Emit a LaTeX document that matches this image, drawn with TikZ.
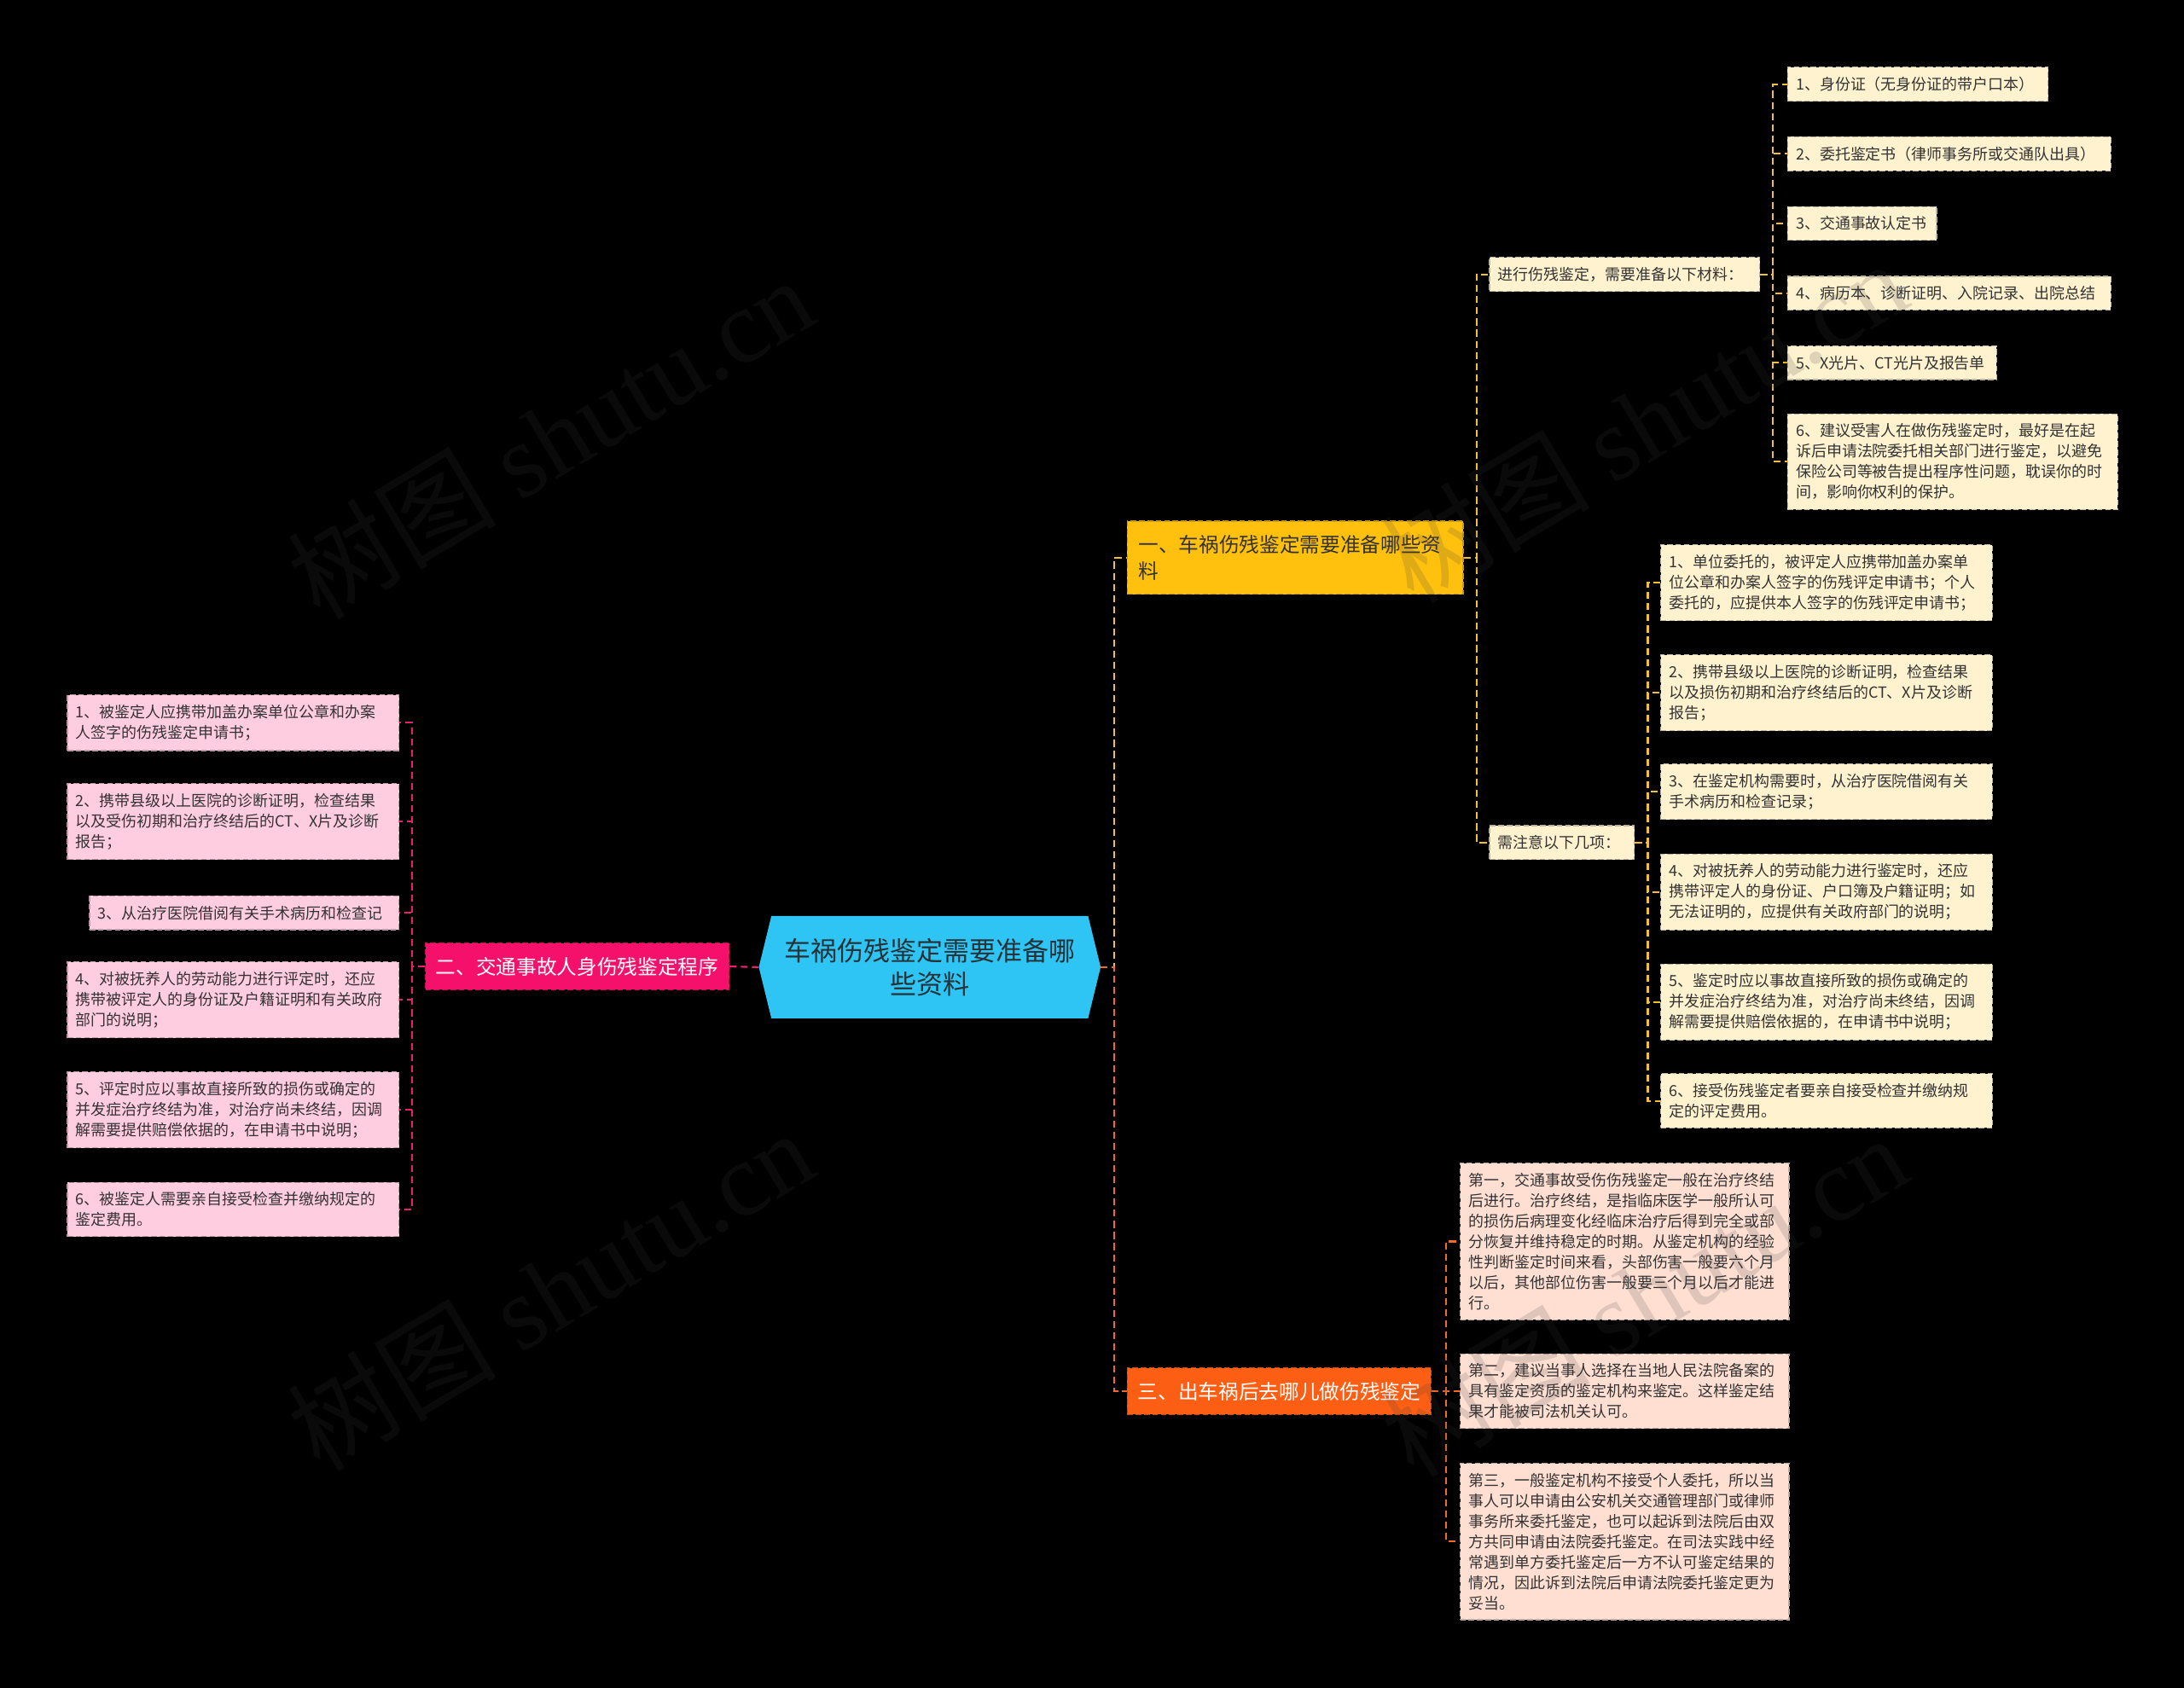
\documentclass[tikz,border=0pt]{standalone}
\usepackage{fontspec}
\setmainfont{Noto Sans CJK SC}
\newfontfamily\wmserif{Liberation Serif}
\usetikzlibrary{backgrounds}
\definecolor{cblue}{HTML}{2EC5F5}
\definecolor{cyel}{HTML}{FFC00E}
\definecolor{cpink}{HTML}{F5106B}
\definecolor{corg}{HTML}{FC5E14}
\definecolor{lyel}{HTML}{FFF2CF}
\definecolor{lpink}{HTML}{FFCCE0}
\definecolor{lorg}{HTML}{FFDFD2}
\definecolor{tdark}{HTML}{333333}
\definecolor{ctext}{HTML}{263238}
\definecolor{lyelline}{HTML}{F2C037}
\definecolor{lpinkline}{HTML}{E8206E}
\definecolor{lorgline}{HTML}{F06A2C}
\tikzset{
  leaf/.style={anchor=west, align=left, inner xsep=6pt, inner ysep=7pt,
    font=\fontsize{11}{14.7}\selectfont, text=tdark,
    dash pattern=on 4pt off 2pt, line width=0.8pt},
  yleaf/.style={leaf, fill=lyel, draw=lyel!75!black},
  pleaf/.style={leaf, fill=lpink, draw=lpink!75!black},
  oleaf/.style={leaf, fill=lorg, draw=lorg!75!black},
  branch/.style={anchor=west, align=left, inner xsep=7.5pt, inner ysep=10pt,
    font=\fontsize{14.5}{19}\selectfont, dash pattern=on 4pt off 2pt, line width=0.8pt},
  con/.style={dash pattern=on 5pt off 3pt, line width=1.3pt},
  ycon/.style={con, draw=lyelline},
  pcon/.style={con, draw=lpinkline},
  ocon/.style={con, draw=lorgline},
  wm/.style={rotate=31, text=black!75, text opacity=0.17,
    font=\fontsize{75}{80}\selectfont, inner sep=0pt}
}
\begin{document}
\begin{tikzpicture}[x=1pt,y=-1pt]
\begin{scope}[on background layer]
\fill[black] (0,0) rectangle (1568,1212);
\end{scope}
\useasboundingbox (0,0) rectangle (1568,1212);

% centre
\node[font=\fontsize{19}{24}\selectfont, text=ctext, align=center,
  minimum width=227pt, minimum height=73pt, inner sep=0pt] (c) at (667.5,694.5)
  {车祸伤残鉴定需要准备哪\\些资料};
\begin{scope}[on background layer]
\fill[cblue] ([xshift=-9pt]c.west) -- (c.north west) -- (c.north east)
  -- ([xshift=9pt]c.east) -- (c.south east) -- (c.south west) -- cycle;
\end{scope}

% main branches
\node[branch, fill=cyel, draw=cyel!80!black, text=tdark, text width=225pt, inner xsep=8pt] (b1) at (809,400.5)
  {一、车祸伤残鉴定需要准备哪些资\\料};
\node[branch, fill=cpink, draw=cpink!80!black, text=white] (b2) at (305,694) {二、交通事故人身伤残鉴定程序};
\node[branch, fill=corg, draw=corg!80!black, text=white] (b3) at (809,999) {三、出车祸后去哪儿做伤残鉴定};

% branch 1 sub nodes
\node[yleaf, text width=182pt] (A) at (1069,197) {进行伤残鉴定，需要准备以下材料：};
\node[yleaf, text width=92pt] (B) at (1069,605) {需注意以下几项：};

\node[yleaf, text width=175pt] (A1) at (1283,60.5) {1、身份证（无身份证的带户口本）};
\node[yleaf, text width=220pt] (A2) at (1283,110.5) {2、委托鉴定书（律师事务所或交通队出具）};
\node[yleaf, text width=95pt] (A3) at (1283,160.5) {3、交通事故认定书};
\node[yleaf, text width=220pt] (A4) at (1283,210.5) {4、病历本、诊断证明、入院记录、出院总结};
\node[yleaf, text width=138pt] (A5) at (1283,260.5) {5、X光片、CT光片及报告单};
\node[yleaf, text width=225pt] (A6) at (1283,331.5) {6、建议受害人在做伤残鉴定时，最好是在起\\诉后申请法院委托相关部门进行鉴定，以避免\\保险公司等被告提出程序性问题，耽误你的时\\间，影响你权利的保护。};

\node[yleaf, text width=226pt] (B1) at (1192,418.5) {1、单位委托的，被评定人应携带加盖办案单\\位公章和办案人签字的伤残评定申请书；个人\\委托的，应提供本人签字的伤残评定申请书；};
\node[yleaf, text width=226pt] (B2) at (1192,497.5) {2、携带县级以上医院的诊断证明，检查结果\\以及损伤初期和治疗终结后的CT、X片及诊断\\报告；};
\node[yleaf, text width=226pt] (B3) at (1192,568.5) {3、在鉴定机构需要时，从治疗医院借阅有关\\手术病历和检查记录；};
\node[yleaf, text width=226pt] (B4) at (1192,640.5) {4、对被抚养人的劳动能力进行鉴定时，还应\\携带评定人的身份证、户口簿及户籍证明；如\\无法证明的，应提供有关政府部门的说明；};
\node[yleaf, text width=226pt] (B5) at (1192,719.5) {5、鉴定时应以事故直接所致的损伤或确定的\\并发症治疗终结为准，对治疗尚未终结，因调\\解需要提供赔偿依据的，在申请书中说明；};
\node[yleaf, text width=226pt] (B6) at (1192,790.5) {6、接受伤残鉴定者要亲自接受检查并缴纳规\\定的评定费用。};

% branch 2 leaves
\node[pleaf, text width=226pt] (L1) at (48,519) {1、被鉴定人应携带加盖办案单位公章和办案\\人签字的伤残鉴定申请书；};
\node[pleaf, text width=226pt] (L2) at (48,590) {2、携带县级以上医院的诊断证明，检查结果\\以及受伤初期和治疗终结后的CT、X片及诊断\\报告；};
\node[pleaf, text width=210pt] (L3) at (64,655.5) {3、从治疗医院借阅有关手术病历和检查记};
\node[pleaf, text width=226pt] (L4) at (48,718) {4、对被抚养人的劳动能力进行评定时，还应\\携带被评定人的身份证及户籍证明和有关政府\\部门的说明；};
\node[pleaf, text width=226pt] (L5) at (48,797) {5、评定时应以事故直接所致的损伤或确定的\\并发症治疗终结为准，对治疗尚未终结，因调\\解需要提供赔偿依据的，在申请书中说明；};
\node[pleaf, text width=226pt] (L6) at (48,868.5) {6、被鉴定人需要亲自接受检查并缴纳规定的\\鉴定费用。};

% branch 3 leaves
\node[oleaf, text width=224pt] (C1) at (1048,891.5) {第一，交通事故受伤伤残鉴定一般在治疗终结\\后进行。治疗终结，是指临床医学一般所认可\\的损伤后病理变化经临床治疗后得到完全或部\\分恢复并维持稳定的时期。从鉴定机构的经验\\性判断鉴定时间来看，头部伤害一般要六个月\\以后，其他部位伤害一般要三个月以后才能进\\行。};
\node[oleaf, text width=224pt] (C2) at (1048,999) {第二，建议当事人选择在当地人民法院备案的\\具有鉴定资质的鉴定机构来鉴定。这样鉴定结\\果才能被司法机关认可。};
\node[oleaf, text width=224pt] (C3) at (1048,1107) {第三，一般鉴定机构不接受个人委托，所以当\\事人可以申请由公安机关交通管理部门或律师\\事务所来委托鉴定，也可以起诉到法院后由双\\方共同申请由法院委托鉴定。在司法实践中经\\常遇到单方委托鉴定后一方不认可鉴定结果的\\情况，因此诉到法院后申请法院委托鉴定更为\\妥当。};

% connectors: centre to branches
\coordinate (cR) at ([xshift=9pt]c.east);
\coordinate (cL) at ([xshift=-9pt]c.west);
\draw[ycon] (cR) -| ([xshift=-9pt]b1.west) -- (b1.west);
\draw[ocon] (cR) -| ([xshift=-9pt]b3.west) -- (b3.west);
\draw[pcon] (cL) -- (b2.east);

% branch 1
\foreach \n in {A,B}
  \draw[ycon] (b1.east) -| ([xshift=-9pt]\n.west) -- (\n.west);
\foreach \n in {A1,A2,A3,A4,A5,A6}
  \draw[ycon] (A.east) -| ([xshift=-10pt]\n.west) -- (\n.west);
\foreach \n in {B1,B2,B3,B4,B5,B6}
  \draw[ycon] (B.east) -| ([xshift=-9pt]\n.west) -- (\n.west);
% branch 2
\foreach \n in {L1,L2,L3,L4,L5,L6}
  \draw[pcon] (b2.west) -| ([xshift=9pt]\n.east) -- (\n.east);
% branch 3
\foreach \n in {C1,C2,C3}
  \draw[ocon] (b3.east) -| ([xshift=-10pt]\n.west) -- (\n.west);

% watermarks
\node[wm] (w1) at (395,314) {树图 {\wmserif shutu.cn}};
\node[wm] (w2) at (1180,302) {树图 {\wmserif shutu.cn}};
\node[wm] (w3) at (395,926) {树图 {\wmserif shutu.cn}};
\node[wm] (w4) at (1180,930) {树图 {\wmserif shutu.cn}};
\end{tikzpicture}
\end{document}
